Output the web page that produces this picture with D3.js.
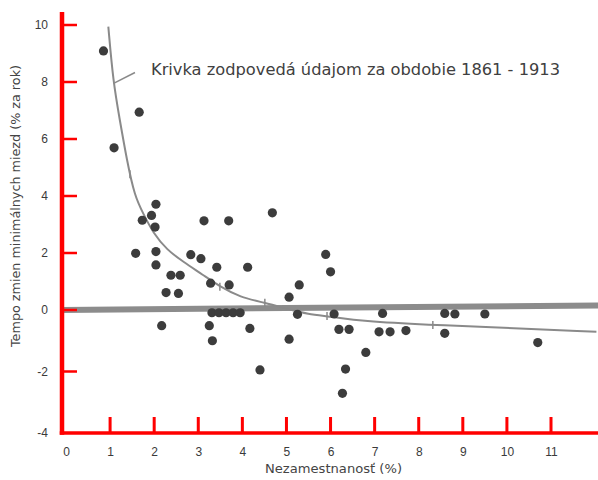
<!DOCTYPE html>
<html>
<head>
<meta charset="utf-8">
<script src="https://cdn.jsdelivr.net/npm/d3@7"></script>
<style>
  html, body { margin: 0; padding: 0; background: #fff; }
</style>
</head>
<body>
<div id="chart"></div>
<script>
// unemployment (%) vs. minimum wage growth (% per year)
const unemployment = [
  0.85, 1.09, 1.66,
  2.04, 1.94, 1.73, 2.02, 3.13, 3.69,
  1.58, 2.04, 2.83, 3.06, 3.42, 2.04, 2.38, 2.59, 3.28, 3.70, 2.27, 2.55,
  4.68, 5.89, 6.00, 4.12, 5.29, 5.06,
  2.17, 3.25, 3.32,
  3.31, 3.47, 3.63, 3.79, 3.95,
  5.25, 6.08, 4.17, 5.06, 6.19, 6.42, 4.40, 6.34, 6.27,
  7.18, 8.59, 8.82, 7.10, 7.35, 7.71, 8.59, 6.80,
  9.50, 10.70
]
const wageGrowth = [
  9.09, 5.69, 6.94,
  3.71, 3.32, 3.15, 2.91, 3.13, 3.13,
  1.99, 2.05, 1.94, 1.80, 1.50, 1.58, 1.22, 1.22, 0.94, 0.88, 0.61, 0.58,
  3.41, 1.95, 1.34, 1.50, 0.88, 0.45,
  -0.51, -0.51, -1.00,
  -0.09, -0.09, -0.09, -0.09, -0.09,
  -0.14, -0.13, -0.60, -0.95, -0.63, -0.63, -1.95, -1.92, -2.71,
  -0.11, -0.11, -0.13, -0.71, -0.71, -0.67, -0.76, -1.38,
  -0.13, -1.06
]

// fitted curve for 1861 - 1913
const curveX = [0.96, 1.07, 1.22, 1.38, 1.56, 1.75, 1.98, 2.29, 2.66, 3.11, 3.49, 3.95, 4.49, 5.06, 5.46, 6.06, 6.67, 8.33, 9.39, 12.03]
const curveY = [9.94, 8.01, 6.67, 5.26, 3.98, 3.39, 2.69, 2.11, 1.69, 1.23, 0.82, 0.45, 0.26, 0.02, -0.13, -0.22, -0.36, -0.49, -0.54, -0.71]
const curveMarks = [1.45, 3.49, 4.51, 5.92, 8.32]

// thick zero line (slightly tilted in the original)
const zeroLineY = [0, 0.16]

const xTicks = [0, 1, 2, 3, 4, 5, 6, 7, 8, 9, 10, 11]
const yTicks = [-4, -2, 0, 2, 4, 6, 8, 10]

const points = unemployment.map((u, i) => ({ x: u, y: wageGrowth[i] }))
const curvePts = curveX.map((cx, i) => ({ x: cx, y: curveY[i] }))

const width = 598
const height = 480
const axisX = 62
const axisY = 433
const ink = 'red'

const x = d3.scaleLinear().domain([0, 11]).range([66, 551])
const y = d3.scaleLinear().domain([-4, 0, 10]).range([433, 310, 25])

const svg = d3.select('#chart')
  .append('svg')
  .attr('width', width)
  .attr('height', height)
  .style('font-family', '"DejaVu Sans", Verdana, sans-serif')

svg.append('rect').attr('width', width).attr('height', height).attr('fill', '#fff')

// y axis labels
const yAxis = svg.append('g')
  .attr('transform', `translate(${axisX},0)`)
  .call(d3.axisLeft(y).tickValues(yTicks).tickSize(0).tickPadding(14))
yAxis.select('.domain').remove()
yAxis.selectAll('.tick text').attr('font-size', 12).attr('fill', '#3a3a3a')
  .text(d => d < 0 ? '-' + Math.abs(d) : d)

// x axis labels
const xAxis = svg.append('g')
  .attr('transform', `translate(0,${axisY})`)
  .call(d3.axisBottom(x).tickValues(xTicks).tickSize(0).tickPadding(14))
xAxis.select('.domain').remove()
xAxis.selectAll('.tick text').attr('font-size', 12).attr('fill', '#3a3a3a')

// thick gray zero line
svg.append('line')
  .attr('x1', axisX).attr('y1', y(zeroLineY[0]))
  .attr('x2', width).attr('y2', y(zeroLineY[1]))
  .attr('stroke', '#8c8c8c')
  .attr('stroke-width', 6)

// curve
svg.append('path')
  .datum(curvePts)
  .attr('d', d3.line().x(d => x(d.x)).y(d => y(d.y)).curve(d3.curveBasis))
  .attr('fill', 'none')
  .attr('stroke', '#8a8a8a')
  .attr('stroke-width', 2)

// little marks along the curve
const interpY = d3.scaleLinear().domain(curveX).range(curveY)
svg.selectAll('.mark')
  .data(curveMarks)
  .enter()
  .append('line')
    .attr('class', 'mark')
    .attr('x1', d => x(d)).attr('x2', d => x(d))
    .attr('y1', d => y(interpY(d)) - 4)
    .attr('y2', d => y(interpY(d)) + 4)
    .attr('stroke', '#8a8a8a')
    .attr('stroke-width', 1.5)

// pointer from the label to the curve
svg.append('line')
  .attr('x1', 135).attr('y1', 72.5)
  .attr('x2', x(1.08)).attr('y2', y(7.95))
  .attr('stroke', '#8a8a8a')
  .attr('stroke-width', 1.5)

svg.append('text')
  .attr('x', 151)
  .attr('y', 75)
  .attr('font-size', 16)
  .attr('textLength', 409)
  .attr('lengthAdjust', 'spacingAndGlyphs')
  .attr('fill', '#404040')
  .text('Krivka zodpovedá údajom za obdobie 1861 - 1913')

// points
svg.selectAll('circle')
  .data(points)
  .enter()
  .append('circle')
    .attr('cx', d => x(d.x))
    .attr('cy', d => y(d.y))
    .attr('r', 4.6)
    .attr('fill', '#3c3c3c')

// tick marks (inward) and axis lines
const axes = svg.append('g').attr('class', 'axes')

axes.selectAll('.xtick')
  .data(xTicks.filter(d => d > 0))
  .enter()
  .append('rect')
    .attr('class', 'xtick')
    .attr('x', d => x(d) - 1.5)
    .attr('y', axisY - 16)
    .attr('width', 3)
    .attr('height', 16)
    .attr('fill', ink)

axes.selectAll('.ytick')
  .data(yTicks.filter(d => d > -4))
  .enter()
  .append('rect')
    .attr('class', 'ytick')
    .attr('x', axisX)
    .attr('y', d => y(d) - 1.25)
    .attr('width', 15)
    .attr('height', 2.5)
    .attr('fill', ink)

axes.append('rect')
  .attr('x', axisX - 2.25).attr('y', 12)
  .attr('width', 4.5).attr('height', axisY + 1.75 - 12)
  .attr('fill', ink)
axes.append('rect')
  .attr('x', axisX - 2.25).attr('y', axisY - 1.75)
  .attr('width', width - axisX + 2.25).attr('height', 3.5)
  .attr('fill', ink)

// axis titles
svg.append('text')
  .attr('transform', 'translate(20,206) rotate(-90)')
  .attr('text-anchor', 'middle')
  .attr('font-size', 12)
  .attr('textLength', 282)
  .attr('lengthAdjust', 'spacingAndGlyphs')
  .attr('fill', '#444')
  .text('Tempo zmien minimálnych miezd (% za rok)')

svg.append('text')
  .attr('x', 265)
  .attr('y', 473)
  .attr('font-size', 12)
  .attr('textLength', 137)
  .attr('lengthAdjust', 'spacingAndGlyphs')
  .attr('fill', '#444')
  .text('Nezamestnanosť (%)')
</script>
</body>
</html>
